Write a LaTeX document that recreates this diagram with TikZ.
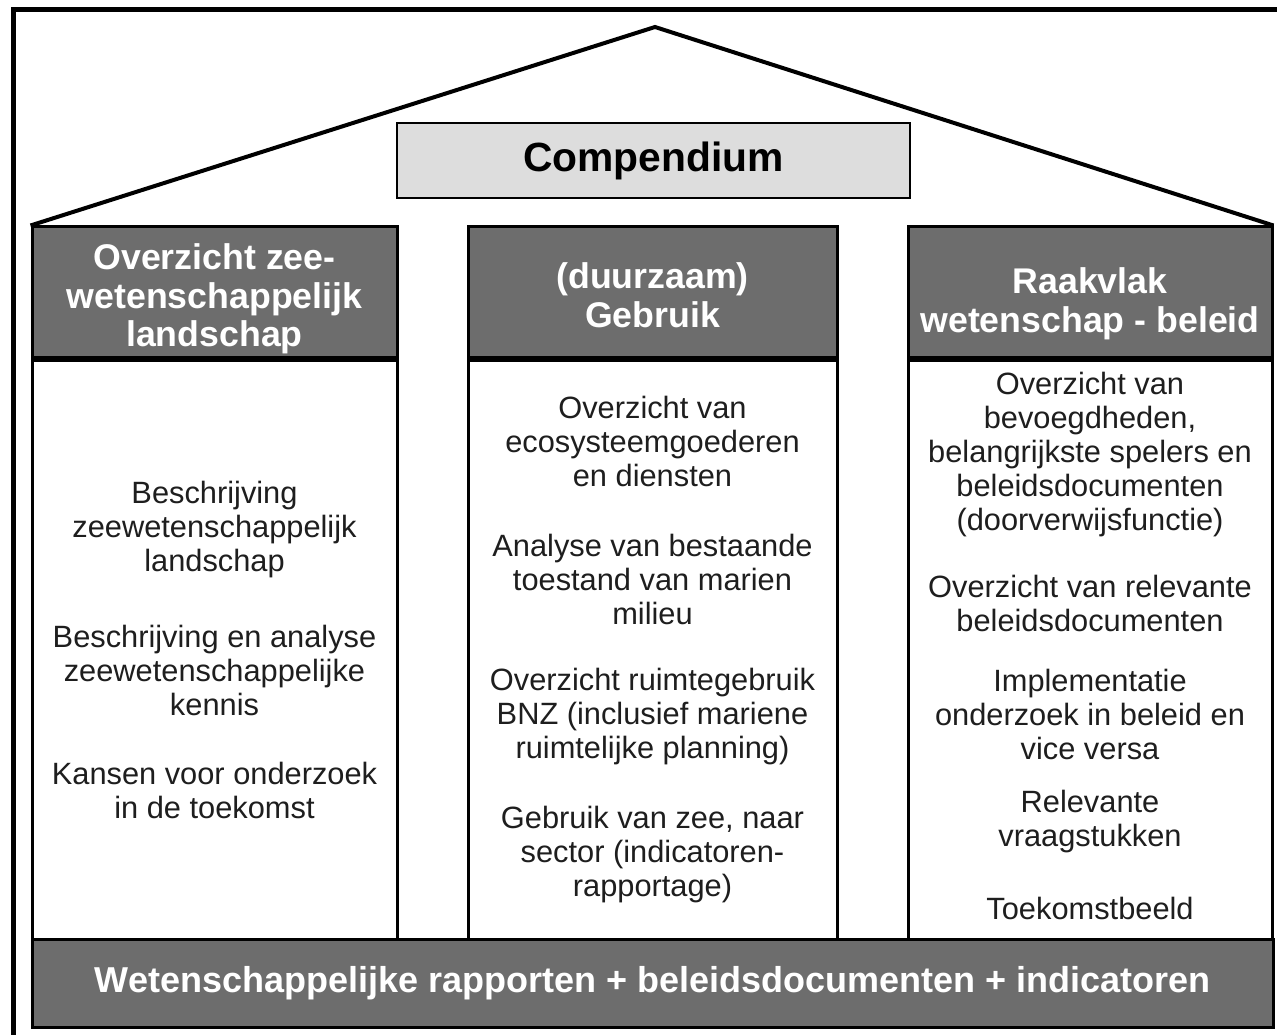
\documentclass[tikz,border=0pt]{standalone}
\usepackage{fontspec}
\setmainfont{Liberation Sans}
\usetikzlibrary{positioning}

\definecolor{pillargray}{HTML}{6D6D6D}
\definecolor{lintelgray}{HTML}{DDDDDD}
\definecolor{inkgray}{HTML}{1E1E1E}

\tikzset{
	head/.style={draw, line width=3pt, fill=pillargray, minimum height=130, inner sep=0pt},
	headtext/.style={text=white, align=center, inner sep=0pt, font=\bfseries\fontsize{35.7}{38.5}\selectfont},
	shaft/.style={draw, line width=3pt, fill=white, minimum height=582, inner sep=0pt},
	item/.style={text=inkgray, align=center, inner sep=0pt, font=\fontsize{30.8}{34}\selectfont},
}

\begin{document}
\begin{tikzpicture}[x=1pt,y=-1pt]
\useasboundingbox (0,0) rectangle (1277,1035);
\clip (0,0) rectangle (1277,1035);

% frame
\draw[line width=5pt] (13,10) rectangle (1300,1060);

% pillars
\node[head, minimum width=365] (headL) at (214.5,292) {};
\node[head, minimum width=369] (headM) at (652.5,292) {};
\node[head, minimum width=364] (headR) at (1090,292) {};

\node[shaft, minimum width=365, below=0pt of headL] (shaftL) {};
\node[shaft, minimum width=369, below=0pt of headM] (shaftM) {};
\node[shaft, minimum width=364, below=0pt of headR] (shaftR) {};

\node[headtext] (titleL) at (214.5,299) {Overzicht zee-\\wetenschappelijk\\landschap};
\node[headtext] (titleM) at (652.5,295) {(duurzaam)\\Gebruik};
\node[headtext] (titleR) at (1090,304) {Raakvlak\\wetenschap - beleid};

% roof
\coordinate (apex) at (655,27);
\draw[line width=4pt] (headL.north west) -- (apex) -- (headR.north east);

\node[draw, line width=2.5pt, fill=lintelgray, minimum width=513, minimum height=75,
	font=\bfseries\fontsize{40.8}{44}\selectfont] (lintel) at (653.5,160.5) {Compendium};

% base
\node[draw, line width=3pt, fill=pillargray, minimum width=1241, minimum height=88, text=white,
	font=\bfseries\fontsize{36}{40}\selectfont] (base) at (652.5,983)
	{Wetenschappelijke rapporten + beleidsdocumenten + indicatoren};

% left pillar
\node[item] (itemL1) at (214.5,530) {Beschrijving\\zeewetenschappelijk\\landschap};
\node[item] (itemL2) at (214.5,670) {Beschrijving en analyse\\zeewetenschappelijke\\kennis};
\node[item] (itemL3) at (214.5,790) {Kansen voor onderzoek\\in de toekomst};

% middle pillar
\node[item] (itemM1) at (652.5,441) {Overzicht van\\ecosysteemgoederen\\en diensten};
\node[item] (itemM2) at (652.5,579) {Analyse van bestaande\\toestand van marien\\milieu};
\node[item] (itemM3) at (652.5,717) {Overzicht ruimtegebruik\\BNZ (inclusief mariene\\ruimtelijke planning)};
\node[item] (itemM4) at (652.5,855) {Gebruik van zee, naar\\sector (indicatoren-\\rapportage)};

% right pillar
\node[item] (itemR1) at (1090,455) {Overzicht van\\bevoegdheden,\\belangrijkste spelers en\\beleidsdocumenten\\(doorverwijsfunctie)};
\node[item] (itemR2) at (1090,603) {Overzicht van relevante\\beleidsdocumenten};
\node[item] (itemR3) at (1090,714) {Implementatie\\onderzoek in beleid en\\vice versa};
\node[item] (itemR4) at (1090,822) {Relevante\\vraagstukken};
\node[item] (itemR5) at (1090,908) {Toekomstbeeld};
\end{tikzpicture}
\end{document}
